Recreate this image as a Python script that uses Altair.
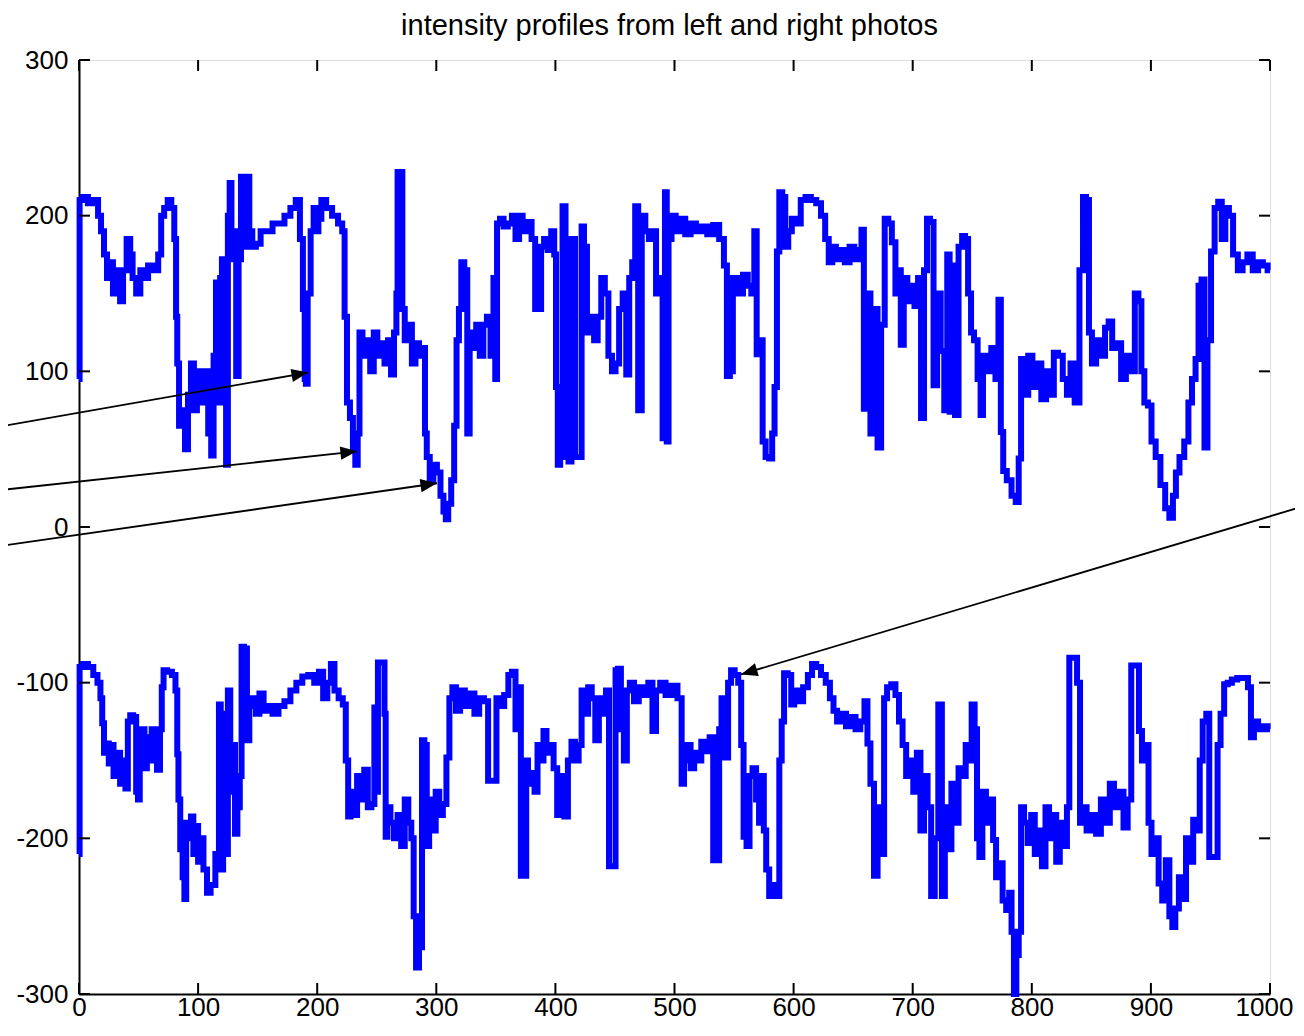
import math
import altair as alt
import pandas as pd

# ---------------- data ----------------
title_text = "intensity profiles from left and right photos"

upper_x = [0, 1, 5, 10, 15, 17, 20, 22, 25, 27, 30, 33, 36, 38, 42, 44, 46, 50, 53, 56, 60, 65, 68, 70, 73, 76, 79,
           81, 82, 83, 85, 88, 90, 93, 95, 98, 100, 104, 107, 110, 112, 114, 116, 118, 119, 121, 123, 124, 126, 127,
           129, 131, 133, 135, 137, 140, 142, 144, 147, 150, 155, 160, 165, 170, 175, 180, 184, 187, 189, 190, 191,
           193, 196, 198, 200, 202, 205, 210, 215, 220, 222, 224, 226, 229, 231, 233, 235,
           236, 240, 243, 246, 249, 252, 255, 258, 261, 263, 266, 267, 268, 271, 272, 275, 278, 281, 284, 287, 290,
           291, 293, 296, 299, 302, 305, 307, 309, 311, 314, 316, 318, 320, 322, 325, 327, 329, 332, 335, 338, 341,
           344, 347, 349, 350, 352, 355, 358, 362, 365, 368, 371, 374, 378, 382, 384, 387, 389, 392, 395, 398, 400,
           401, 403, 405, 407, 410, 412, 415, 418, 421, 423, 425, 428, 431, 434, 437, 440, 443, 446, 449, 452, 455,
           458, 461, 463, 466, 468, 471, 474, 477, 480, 483, 486, 489, 491, 493,
           494, 496, 499, 503, 507, 511, 516, 520, 525, 530, 535, 540, 543, 545, 548, 550, 555, 560, 563, 566, 568,
           570, 573, 575, 578, 581, 583, 585, 587, 589, 592, 594, 597, 600, 604, 608, 612, 617, 621, 625, 628, 631,
           634, 637, 641, 645, 649, 653, 656, 658, 660, 663, 666, 669, 672, 675, 678, 681, 684, 687, 689, 691, 694,
           697, 700, 703, 706, 708, 711, 713, 716, 719, 722, 725, 728, 730, 732, 734, 737, 740, 743, 745, 748, 750,
           753, 756, 758, 760, 764, 768, 771, 773, 775, 777, 781, 785, 788, 790, 792, 795, 799, 802, 806, 810, 814,
           817, 820, 824, 828, 831, 834, 838, 842, 844, 847, 849, 852, 856, 860, 863, 866, 869, 873, 877, 881, 885,
           888, 891, 893, 896, 899, 902, 906, 910, 914, 917, 920, 922, 926, 930, 933, 936, 939, 941, 944, 946, 949,
           952, 955, 958, 961, 964, 967, 971, 975, 979, 983, 988, 992, 996, 1000]
upper_y = [95, 210, 212, 208, 210, 200, 190, 175, 160, 170, 150, 165, 145, 165, 185, 175, 160, 150, 165, 160, 168, 165,
           175, 200, 205, 210, 205,
           185, 135, 105, 65, 75, 50, 85, 105, 75, 100, 80, 100, 60, 46, 110, 157, 80, 160, 172, 108, 40, 200, 221,
           172, 190, 97, 172, 225, 180, 225, 190, 180, 182, 190, 190, 195, 195, 200, 205, 210, 185, 140, 95, 92,
           150, 190, 205, 190, 198, 210, 205, 200, 195, 190, 135, 80, 70, 50, 40, 60,
           125, 110, 120, 100, 125, 110, 118, 105, 120, 98, 125, 150, 228, 228, 140, 120, 130, 105, 118, 110, 115,
           60, 45, 30, 40, 35, 20, 10, 5, 15, 30, 65, 120, 140, 170, 165, 60, 125, 115, 130, 110, 130,
           135, 110, 160, 95, 195, 198, 193, 195, 200, 185, 200, 190, 196, 185, 140, 140, 180, 185, 178, 190, 175,
           90, 40, 45, 206, 170, 42, 185, 45, 45, 193, 180, 125, 135, 120, 135, 160, 150, 110, 100, 105, 140,
           150, 98, 160, 170, 206, 75, 200, 190, 185, 190, 150, 160, 57, 215,
           55, 185, 200, 190, 198, 188, 195, 190, 193, 188, 194, 185, 168, 97, 100, 160, 150, 162, 155, 150, 190,
           111, 120, 55, 45, 44, 60, 90, 177, 215, 212, 180, 190, 198, 195, 210, 212, 210, 208, 200, 185, 170,
           180, 172, 178, 170, 180, 172, 178, 191, 76, 150, 60, 140, 51, 130, 198, 195, 183, 150, 165, 117, 160,
           145, 155, 142, 160, 70, 165, 198, 196, 91, 150, 113, 75, 175, 74, 168, 72, 180, 187, 185, 150, 125,
           120, 95, 72, 110, 100, 115, 95, 146, 61, 36, 30, 20, 16, 44, 108, 85, 110, 90, 105, 82, 100,
           85, 112, 110, 95, 85, 105, 80, 165, 212, 210, 125, 105, 120, 110, 128, 132, 115, 118, 95, 110, 100,
           150, 145, 100, 80, 78, 55, 45, 27, 12, 6, 20, 35, 45, 55, 80, 95, 108, 155, 159, 51, 120,
           177, 205, 209, 185, 205, 200, 175, 165, 170, 175, 165, 170, 168, 165]

lower_x = [0, 1, 5, 10, 14, 17, 19, 20, 22, 24, 26, 28, 30, 33, 36, 38, 40, 42, 44, 47, 49, 50, 52, 54, 56, 58, 60,
           62, 64, 67, 69, 70, 72, 76, 80, 82, 83, 84, 86, 88, 89, 91, 93, 95, 97, 99, 101, 103, 106, 109, 112,
           117, 118, 120, 122, 124, 126, 128, 130, 132, 134, 136, 137, 140, 142, 144, 147, 150, 153, 157, 160, 165,
           170, 175, 180, 185, 190, 195, 200, 203, 207, 210, 213, 216, 220, 223, 225, 227, 229, 232, 235, 238, 241,
           244, 247, 249, 250, 252, 256, 257, 258, 260, 263, 266, 269, 272, 275, 278, 280, 282, 284, 287, 289, 291,
           293, 295, 298, 301, 304, 307, 310, 312, 315, 318, 322, 326, 330, 334, 338, 342, 345, 350, 351, 355, 359,
           362, 365, 368, 370, 372, 375, 376, 378, 381, 384, 386, 389, 391, 394, 397, 400, 403, 406, 409, 412, 415,
           418, 421, 423, 426, 429, 432, 435, 438, 441, 444, 446, 450, 451, 454, 456, 459, 461, 464, 468, 472, 476,
           480, 483, 486, 490, 495, 500, 505, 507, 509, 512, 515, 518, 521, 524, 528, 531, 534, 537, 538, 541, 544,
           546, 549, 552, 555, 557, 559, 562, 564, 567, 570, 572, 574, 576, 578, 581, 584, 587, 589, 591, 593, 597,
           599, 602, 606, 610, 614, 617, 621, 625, 629, 632, 635, 638, 642, 646, 650, 654, 658, 661, 663, 666, 669,
           672, 675, 677, 680, 684, 687, 690, 693, 696, 699, 702, 705, 708, 711, 714, 717, 720, 723, 726, 728, 731,
           734, 737, 740, 743, 746, 748, 751, 753, 755, 757, 760, 763, 766, 769, 771, 774, 777, 780, 782, 784, 786,
           788, 790, 792, 795, 798, 801, 804, 807, 810, 813, 816, 819, 822, 825, 828, 831, 832, 836, 840, 841, 844,
           848, 852, 856, 860, 864, 867, 871, 875, 879, 882, 885, 889, 891, 894, 897, 899, 902, 905, 908, 911, 914,
           917, 919, 922, 925, 928, 931, 934, 937, 940, 942, 945, 948, 950, 955, 957, 960, 963, 966, 970, 975, 980,
           983, 985, 988, 992, 996, 1000]
lower_y = [-210, -90, -88, -90, -95, -100, -110, -126, -145, -139, -152, -140, -160, -145, -165, -150, -168, -125,
           -121, -122, -170, -175, -150, -130, -155, -135, -150,
           -130, -145, -156, -130, -103, -92, -93, -95, -105, -146, -175, -207, -225, -239, -190, -200, -186, -210,
           -192, -215, -200, -220, -235, -230,
           -210, -114, -220, -120, -210, -105, -170, -140, -197, -180, -160, -77, -78, -137, -115, -110, -120, -107,
           -118, -115, -120,
           -115, -112, -105, -100, -96, -95, -100, -93, -110, -100, -88, -105, -110, -114, -150, -186, -170, -185,
           -160, -175, -156,
           -180, -178, -116, -170, -87, -87, -120, -199, -180, -190, -200, -185, -205, -175, -190, -200, -250, -283,
           -270, -137, -140,
           -205, -175, -195, -170, -185, -178, -148, -110, -103, -118, -105, -115, -107, -120, -110, -112, -163,
           -163, -110, -115, -108,
           -95, -93, -130, -103, -224, -224, -150, -165, -158, -170, -140, -150, -131, -145, -140, -155, -185, -160,
           -186, -150, -138,
           -150, -140, -105, -120, -103, -110, -137, -110, -120, -105, -218, -218, -92, -91, -130, -150, -105, -100,
           -112, -103, -108,
           -100, -131, -105, -100, -108, -102, -110, -165, -150, -140, -155, -145, -150, -138, -144, -135, -214,
           -214, -130, -110, -148,
           -100, -92, -95, -100, -140, -199, -205, -160, -155, -175, -190, -160, -195, -220, -237, -230, -237, -150,
           -125, -94, -95,
           -114, -105, -112, -103, -95, -88, -90, -95, -100, -110, -118, -125, -120, -128, -122, -130, -125, -112,
           -139, -165, -224,
           -180, -210, -110, -103, -101, -108, -125, -140, -160, -150, -170, -145, -195, -160, -180, -237, -200,
           -114, -237, -180, -207,
           -165, -190, -155, -160, -140, -150, -114, -130, -200, -212, -170, -190, -175, -201, -225, -216, -240,
           -246, -235, -260, -300,
           -275, -260, -180, -190, -203, -185, -210, -195, -218, -180, -200, -185, -215, -190, -205, -180, -84, -84,
           -100, -190, -180,
           -195, -185, -197, -175, -190, -165, -180, -170, -193, -175, -89, -89, -131, -150, -140, -190, -210, -200,
           -229, -240, -214,
           -250, -257, -245, -225, -239, -200, -215, -188, -195, -150, -125, -120, -212, -212, -140, -120, -101,
           -100, -98, -97, -97,
           -103, -135, -125, -130, -128, -130]

x_ticks = [0, 100, 200, 300, 400, 500, 600, 700, 800, 900, 1000]
y_ticks = [-300, -200, -100, 0, 100, 200, 300]

# annotation arrows: tail (x, y) -> head (x2, y2), in data units
arrow_x = [-66.3, -66.3, -66.3, 1028.5]
arrow_y = [64.6, 23.7, -12.2, 13.4]
arrow_x2 = [192.3, 233.4, 300.6, 555.8]
arrow_y2 = [99.2, 48.6, 28.1, -94.7]

# ---------------- chart ----------------
W, H = 1191, 934
X_DOM = [0, 1000]
Y_DOM = [-300, 300]
BLUE = "#0000ff"
FONT = "Liberation Sans"
TICK = 11
LABEL_SIZE = 26

lines_df = pd.concat([
    pd.DataFrame({"x": upper_x, "y": upper_y, "series": "left"}),
    pd.DataFrame({"x": lower_x, "y": lower_y, "series": "right"}),
], ignore_index=True)

xs = alt.Scale(domain=X_DOM, nice=False, zero=False)
ys = alt.Scale(domain=Y_DOM, nice=False, zero=False)

x_axis = alt.Axis(values=x_ticks, ticks=False, grid=False, labelFontSize=LABEL_SIZE, labelFont=FONT,
                  labelColor="black", labelBaseline="top", labelPadding=0,
                  domainColor="black", domainWidth=2, title=None,
                  labelFlush=False, labelExpr="'' + datum.value",
                  labelOffset={"condition": {"test": "datum.value == 1000", "value": -6}, "value": 0})
y_axis = alt.Axis(values=y_ticks, ticks=False, grid=False, labelFontSize=LABEL_SIZE, labelFont=FONT,
                  labelColor="black", labelPadding=11, domainColor="black", domainWidth=2, title=None,
                  labelFlush=False, labelExpr="'' + datum.value")

lines = alt.Chart(lines_df).mark_line(color=BLUE, strokeWidth=6, strokeJoin="miter", strokeMiterLimit=2,
                                      interpolate="step").encode(
    x=alt.X("x:Q", scale=xs, axis=x_axis),
    y=alt.Y("y:Q", scale=ys, axis=y_axis),
    detail="series:N",
    order="x:Q",
)

xt = pd.DataFrame({"t": x_ticks})
yt = pd.DataFrame({"t": y_ticks})
tick_style = dict(color="black", strokeWidth=2)
ticks_bottom = alt.Chart(xt).mark_rule(**tick_style).encode(
    x=alt.X("t:Q", scale=xs), y=alt.value(H), y2=alt.value(H - TICK))
ticks_top = alt.Chart(xt).mark_rule(**tick_style).encode(
    x=alt.X("t:Q", scale=xs), y=alt.value(0), y2=alt.value(TICK))
ticks_left = alt.Chart(yt).mark_rule(**tick_style).encode(
    y=alt.Y("t:Q", scale=ys), x=alt.value(0), x2=alt.value(TICK))
ticks_right = alt.Chart(yt).mark_rule(**tick_style).encode(
    y=alt.Y("t:Q", scale=ys), x=alt.value(W), x2=alt.value(W - TICK))

angles = []
for a, b, c, d in zip(arrow_x, arrow_y, arrow_x2, arrow_y2):
    dx = (c - a) * W / (X_DOM[1] - X_DOM[0])
    dy = -(d - b) * H / (Y_DOM[1] - Y_DOM[0])
    angles.append(math.degrees(math.atan2(dy, dx)) % 360)
arrows_df = pd.DataFrame({"x": arrow_x, "y": arrow_y, "x2": arrow_x2, "y2": arrow_y2, "angle": angles})

arrow_lines = alt.Chart(arrows_df).mark_rule(color="black", strokeWidth=1.8).encode(
    x=alt.X("x:Q", scale=xs), y=alt.Y("y:Q", scale=ys), x2="x2:Q", y2="y2:Q")
arrow_heads = alt.Chart(arrows_df).mark_point(
    shape="M0,0L-1,-0.4L-1,0.4Z", filled=True, size=1100, color="black", opacity=1, strokeWidth=0
).encode(
    x=alt.X("x2:Q", scale=xs), y=alt.Y("y2:Q", scale=ys), angle=alt.Angle("angle:Q", scale=None))

title_df = pd.DataFrame({"label": [title_text]})
title_mark = alt.Chart(title_df).mark_text(
    font=FONT, fontSize=29, color="black", align="center", baseline="alphabetic"
).encode(text="label:N", x=alt.value(W / 2 - 5), y=alt.value(-25))

chart = alt.layer(
    lines, ticks_bottom, ticks_top, ticks_left, ticks_right, arrow_lines, arrow_heads, title_mark
).properties(
    width=W, height=H,
    autosize=alt.AutoSizeParams(type="none"),
    padding={"left": 71, "top": 52, "right": 25, "bottom": 30},
).configure_view(stroke="black", strokeWidth=2).configure(background="white")

chart.save("out.html", embed_options={"renderer": "svg", "actions": False})
